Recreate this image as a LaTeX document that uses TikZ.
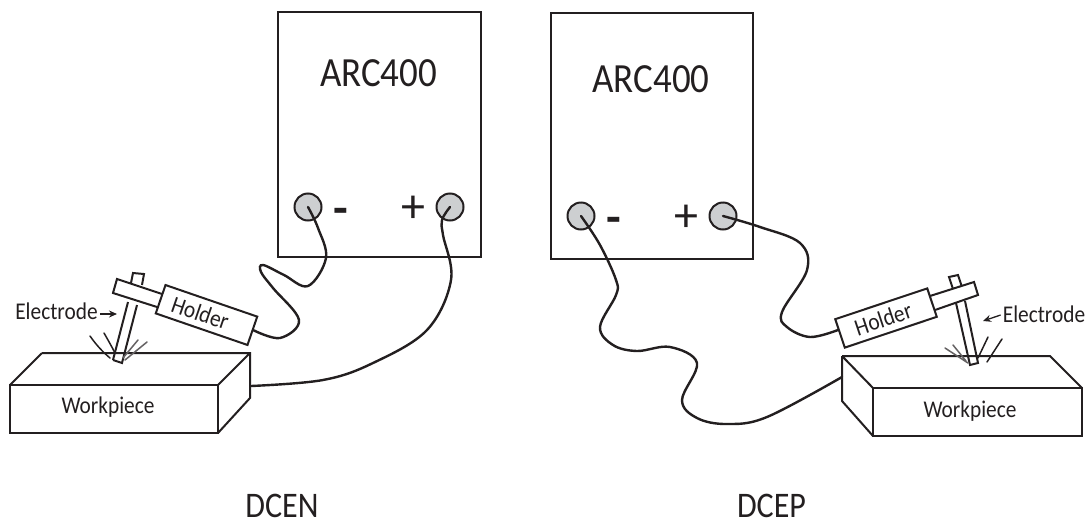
\documentclass[tikz,border=0pt]{standalone}
\usepackage{fontspec}
\setmainfont{Carlito}
\newfontfamily\cond[FakeStretch=0.89]{Carlito}
\usetikzlibrary{arrows.meta}
\definecolor{ink}{HTML}{231F20}
\definecolor{term}{HTML}{CDCFD1}
\tikzset{
  x=1pt,y=-1pt,
  line/.style={draw=ink,line width=2pt,line join=miter},
  wire/.style={draw=ink,line width=2.4pt,line cap=round},
  terminal/.style={circle,draw=ink,fill=term,line width=2pt,minimum size=27pt,inner sep=0pt},
  bigtext/.style={text=ink,font=\cond\fontsize{41.5}{41.5}\selectfont,inner sep=0pt},
  captext/.style={text=ink,font=\cond\fontsize{36}{36}\selectfont,inner sep=0pt},
  smalltext/.style={text=ink,font=\cond\fontsize{24}{24}\selectfont,inner sep=0pt},
  signtext/.style={text=ink,font=\fontsize{48}{48}\selectfont,inner sep=0pt},
  spark/.style={draw=ink,line width=1.5pt,line cap=round},
  pointer/.style={draw=ink,line width=1.3pt,-{Stealth[length=8pt,width=7pt]}},
}
\begin{document}
\begin{tikzpicture}
\useasboundingbox (0,0) rectangle (1091,525);
% power boxes
\node[line,draw,minimum width=203pt,minimum height=245pt,inner sep=0pt] (boxL) at (379.5,134.5) {};
\node[line,draw,minimum width=202pt,minimum height=246pt,inner sep=0pt] (boxR) at (652,136) {};
\node[bigtext] (arcL) at (378.5,73) {ARC400};
\node[bigtext] (arcR) at (651,79) {ARC400};
\node[terminal] (tLm) at (308,207) {};
\node[terminal] (tLp) at (450,207) {};
\node[terminal] (tRm) at (581,216) {};
\node[terminal] (tRp) at (723,216) {};
\node[signtext,font=\fontsize{48}{48}\selectfont\bfseries] (mL) at (340.5,216) {-};
\node[signtext] (pL) at (413,209) {+};
\node[signtext,font=\fontsize{48}{48}\selectfont\bfseries] (mR) at (613.5,225) {-};
\node[signtext] (pR) at (686,218) {+};
% left workpiece
\draw[line] (42,353) -- (250,353) -- (250,398) -- (218,433) (10,385) -- (42,353) (218,385) -- (250,353);
\node[line,draw,minimum width=208pt,minimum height=48pt,inner sep=0pt] (wL) at (114,409) {};
\node[smalltext] at (108,407.5) {Workpiece};
% right workpiece
\draw[line] (842,356) -- (1050,356) -- (1082,388) (842,356) -- (873,388) (842,356) -- (842,401) -- (873,436);
\node[line,draw,minimum width=209pt,minimum height=48pt,inner sep=0pt] (wR) at (977.5,412) {};
\node[smalltext] at (970,411) {Workpiece};
% left torch
\draw[line,fill=white] (131,283) -- (133,273) -- (144,274) -- (142,285);
\draw[line,fill=white] (162,294) -- (117,279) -- (113,293) -- (157,307);
\draw[line] (128,302) -- (113,360) (137,305) -- (122,363) -- (113,360);
\node[line,draw,fill=white,smalltext,minimum width=97pt,minimum height=30pt,rotate=-19] (hL) at (206.5,315) {Holder\hspace*{13pt}};
\coordinate (hLe) at (253,330);
% right torch
\draw[line,fill=white] (953,289) -- (949,277) -- (958,275) -- (962,287);
\draw[line,fill=white] (930,296) -- (974,282) -- (978,295) -- (935,310);
\draw[line] (956,303) -- (970,365) -- (978,363) -- (965,301);
\node[line,draw,fill=white,smalltext,minimum width=97pt,minimum height=30pt,rotate=18.5] (hR) at (886,318) {Holder\hspace*{6pt}};
\coordinate (hRe) at (838,330);
% sparks
\draw[spark] (90,336) .. controls (97,346) and (103,352) .. (110,358);
\draw[spark] (104,333) .. controls (108,340) and (112,347) .. (115,353);
\draw[spark,draw=ink!70] (147,342) -- (125,360) (138,340) -- (123,358);
\draw[spark] (988,337) -- (978,358) (1002,339) -- (987,362);
\draw[spark,draw=ink!70] (945,348) -- (968,363) (953,345) -- (966,361);
% labels
\node[smalltext] (eL) at (56.5,311) {Electrode};
\node[smalltext] (eR) at (1044,314) {Electrode};
\coordinate (eLa) at (117,314);
\coordinate (eRa) at (983,321);
\draw[pointer] (eL.east)+(2,3) -- (eLa);
\draw[pointer] (eR.west)+(-2,1) -- (eRa);
\node[captext] (dcen) at (282,505.5) {DCEN};
\node[captext] (dcep) at (771.5,505.5) {DCEP};
% wires
\coordinate (wLe) at (251,386);
\coordinate (wRe) at (842,377);
\draw[wire] plot[smooth,tension=0.6] coordinates {(tLm.center) (318,228) (326,258) (308,286) (284,275) (263,265) (261,272) (273,288) (299,320) (280,338) (hLe)};
\draw[wire] plot[smooth,tension=0.6] coordinates {(tLp.center) (442,220) (443,235) (451,280) (427,330) (373,363) (323,380) (wLe)};
\draw[wire] plot[smooth,tension=0.6] coordinates {(tRm.center) (600,245) (616,280) (616,295) (600,327) (613,345) (637,351) (670,347) (697,363) (682,400) (697,418) (727,424) (767,417) (wRe)};
\draw[wire] plot[smooth,tension=0.6] coordinates {(tRp.center) (760,227) (800,243) (807,270) (782,312) (787,327) (810,337) (hRe)};
\end{tikzpicture}
\end{document}
